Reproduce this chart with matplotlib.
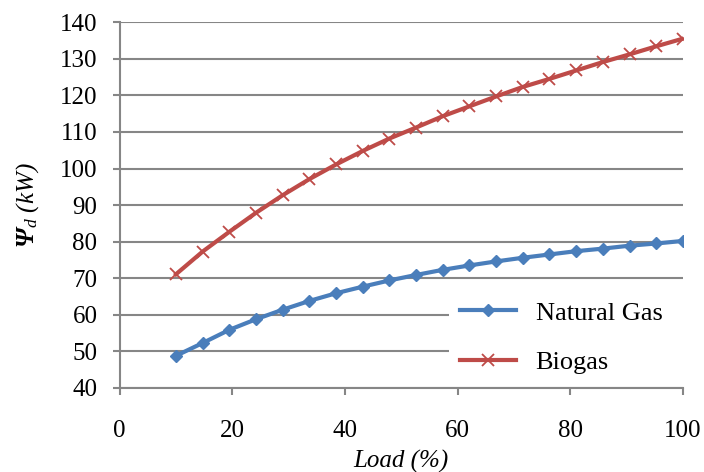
import numpy as np
import matplotlib.pyplot as plt

plt.rcParams['font.family'] = ['Liberation Serif', 'DejaVu Serif']
plt.rcParams['mathtext.fontset'] = 'custom'
plt.rcParams['mathtext.rm'] = 'Liberation Serif'
plt.rcParams['mathtext.it'] = 'Liberation Serif:italic'
plt.rcParams['mathtext.bf'] = 'Liberation Serif:italic:bold'

load = np.linspace(10, 100, 20)
natural_gas = [48.8, 52.3, 55.9, 58.8, 61.4, 63.8, 65.9, 67.7, 69.4, 70.9,
               72.3, 73.5, 74.6, 75.6, 76.5, 77.4, 78.1, 78.9, 79.5, 80.2]
biogas = [71.1, 77.3, 82.7, 87.9, 92.7, 97.1, 101.1, 104.8, 108.2, 111.2,
          114.3, 117.0, 119.7, 122.3, 124.5, 126.8, 129.1, 131.2, 133.4, 135.5]

grid_gray = '#868686'
fs = 18

fig = plt.figure(figsize=(7.04, 4.72), dpi=100)
ax = fig.add_axes([0.170, 0.178, 0.800, 0.775])

ax.plot(load, natural_gas, color='#4A7EBB', lw=3, marker='D', ms=6.5,
        label='Natural Gas', zorder=3)
ax.plot(load, biogas, color='#BE4B48', lw=3, marker='x', ms=8, mew=1.3,
        label='Biogas', zorder=3)

ax.set_xlim(0, 100)
ax.set_ylim(40, 140)
ax.set_xticks(range(0, 101, 20))
ax.set_yticks(range(40, 141, 10))
ax.yaxis.grid(True, color=grid_gray, lw=1.5)
ax.set_axisbelow(True)

for side in ('top', 'right'):
    ax.spines[side].set_visible(False)
for side in ('left', 'bottom'):
    ax.spines[side].set_color(grid_gray)
    ax.spines[side].set_linewidth(1.5)

ax.tick_params(axis='both', colors=grid_gray, labelcolor='black',
               labelsize=fs, length=5, width=1.5)
ax.tick_params(axis='x', pad=18)
ax.tick_params(axis='y', pad=11)

ax.set_xlabel('Load (%)', fontsize=fs, style='italic', labelpad=6)
ax.set_ylabel(r'$\mathbf{\Psi}_{\mathit{d}}$ (kW)', fontsize=fs,
              style='italic', labelpad=14)

# white legend box sitting over the lower-right gridlines
leg = ax.legend(loc='upper left', bbox_to_anchor=(0.584, 0.0, 0.45, 0.27),
                mode='expand', fontsize=19,
                frameon=True, fancybox=False, framealpha=1, edgecolor='none',
                facecolor='white', handlelength=2.1, labelspacing=1.0,
                borderpad=0.45, handletextpad=0.75, borderaxespad=0)
leg.set_clip_on(False)

fig.savefig('out.png', dpi=100)
